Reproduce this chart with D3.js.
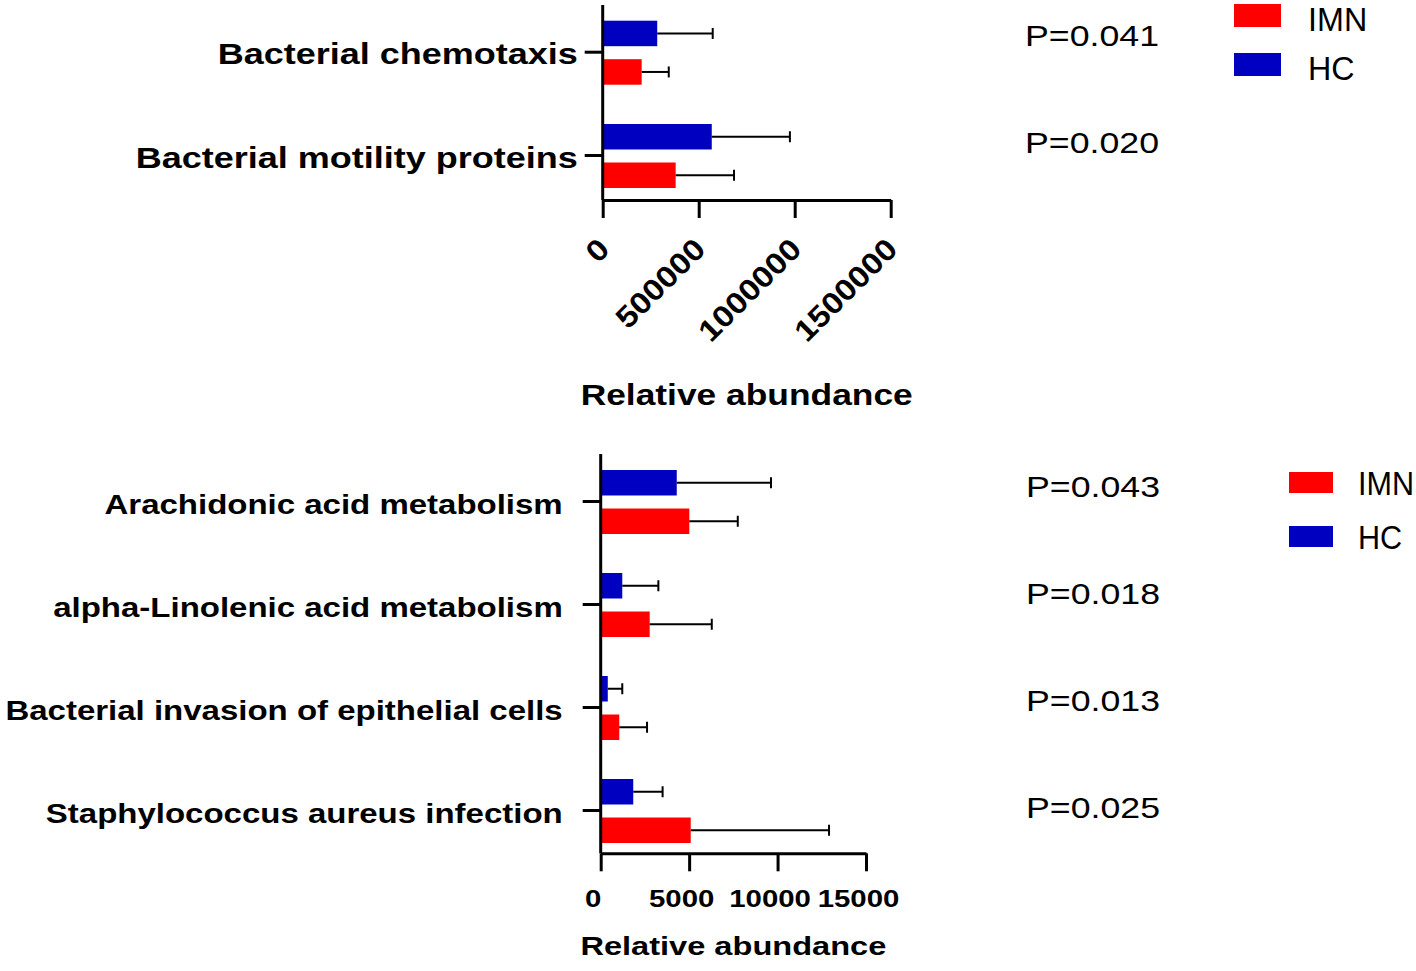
<!DOCTYPE html>
<html><head><meta charset="utf-8">
<script src="https://cdn.jsdelivr.net/npm/d3@7"></script>
<style>body{margin:0;background:#fff}svg{display:block}text{font-family:"Liberation Sans",Arial,sans-serif;fill:#000}</style>
</head><body><svg id="c" width="1416" height="971"></svg>
<script>
// ---------- data ----------
const groups = ["IMN", "HC"];

const topCategories = ["Bacterial chemotaxis", "Bacterial motility proteins"];
const topIMN   = [203000, 380000];
const topIMNsd = [141000, 304000];
const topHC    = [284000, 568000];
const topHCsd  = [289000, 407000];
const topPvalues = ["P=0.041", "P=0.020"];
const topTicks = [0, 500000, 1000000, 1500000];

const bottomCategories = ["Arachidonic acid metabolism", "alpha-Linolenic acid metabolism",
  "Bacterial invasion of epithelial cells", "Staphylococcus aureus infection"];
const bottomIMN   = [5010, 2770, 1050, 5090];
const bottomIMNsd = [2740, 3510, 1570, 7820];
const bottomHC    = [4300, 1220, 400, 1840];
const bottomHCsd  = [5330, 2040, 820, 1660];
const bottomPvalues = ["P=0.043", "P=0.018", "P=0.013", "P=0.025"];
const bottomTicks = [0, 5000, 10000, 15000];

const axisTitle = "Relative abundance";
const colors = {IMN: "#FF0000", HC: "#0000C0"};

// ---------- drawing ----------
const svg = d3.select("#c");

function stext(g, x, y, str, size, sx, anchor, weight) {
  return g.append("text")
    .attr("transform", `translate(${x},${y}) scale(${sx},1)`)
    .attr("text-anchor", anchor)
    .attr("font-size", size)
    .attr("font-weight", weight)
    .text(str);
}

function panel(cfg) {
  const g = svg.append("g");
  const x = d3.scaleLinear().domain([0, cfg.ticks[cfg.ticks.length - 1]]).range([cfg.x0, cfg.x1]);
  const y = d3.scalePoint().domain(cfg.categories).range([cfg.c0, cfg.c1]);
  const sub = d3.scaleBand().domain(["HC", "IMN"]).range([-31, 33]).paddingInner(0.338);

  const rows = [];
  cfg.categories.forEach((c, i) => {
    rows.push({cat: c, grp: "HC", v: cfg.hc[i], sd: cfg.hcsd[i]});
    rows.push({cat: c, grp: "IMN", v: cfg.imn[i], sd: cfg.imnsd[i]});
  });

  g.selectAll("rect.bar").data(rows).join("rect")
    .attr("class", "bar")
    .attr("x", x(0))
    .attr("y", d => y(d.cat) + sub(d.grp))
    .attr("width", d => x(d.v) - x(0))
    .attr("height", sub.bandwidth())
    .attr("fill", d => colors[d.grp]);

  const eb = g.selectAll("g.eb").data(rows).join("g").attr("class", "eb")
    .attr("stroke", "#000").attr("stroke-width", 2);
  eb.append("line")
    .attr("x1", d => x(d.v)).attr("x2", d => x(d.v + d.sd))
    .attr("y1", d => y(d.cat) + sub(d.grp) + sub.bandwidth() / 2)
    .attr("y2", d => y(d.cat) + sub(d.grp) + sub.bandwidth() / 2);
  eb.append("line")
    .attr("x1", d => x(d.v + d.sd)).attr("x2", d => x(d.v + d.sd))
    .attr("y1", d => y(d.cat) + sub(d.grp) + sub.bandwidth() / 2 - 5.5)
    .attr("y2", d => y(d.cat) + sub(d.grp) + sub.bandwidth() / 2 + 5.5);

  // y axis
  const ya = g.append("g").attr("transform", `translate(${cfg.x0},0)`)
    .call(d3.axisLeft(y).tickSize(18).tickSizeOuter(0));
  ya.select(".domain").remove();
  ya.selectAll(".tick line").attr("stroke", "#000").attr("stroke-width", 3);
  ya.selectAll(".tick text")
    .attr("x", -cfg.labelGap / cfg.catSx).attr("dy", null).attr("y", 12)
    .attr("transform", `scale(${cfg.catSx},1)`)
    .attr("font-size", cfg.catSize).attr("font-weight", "bold")
    .attr("font-family", null).attr("fill", "#000");
  g.append("line").attr("x1", cfg.x0).attr("x2", cfg.x0)
    .attr("y1", cfg.yTop).attr("y2", cfg.yAxis)
    .attr("stroke", "#000").attr("stroke-width", 3);

  // x axis
  const xa = g.append("g").attr("transform", `translate(0,${cfg.yAxis})`)
    .call(d3.axisBottom(x).tickValues(cfg.ticks).tickSize(18).tickSizeOuter(0).tickFormat(d3.format("d")));
  xa.select(".domain").attr("stroke", "#000").attr("stroke-width", 3);
  xa.selectAll(".tick line").attr("stroke", "#000").attr("stroke-width", 3);
  const tt = xa.selectAll(".tick text")
    .attr("x", null).attr("y", null).attr("dy", null)
    .attr("font-size", cfg.tickSize).attr("font-weight", "bold")
    .attr("font-family", null).attr("fill", "#000");
  if (cfg.rotate) {
    tt.attr("text-anchor", "end")
      .attr("transform", `translate(8,51) rotate(-45) scale(${cfg.tickSx},1)`);
  } else {
    tt.attr("text-anchor", "middle")
      .attr("transform", `translate(-8,${cfg.tickBase}) scale(${cfg.tickSx},1)`);
  }

  // axis title
  stext(g, (cfg.x0 + cfg.x1) / 2, cfg.titleBase, axisTitle, cfg.titleSize, cfg.titleSx, "middle", "bold");

  // p values
  const py = d3.scalePoint().domain(cfg.categories).range([cfg.p0, cfg.p1]);
  cfg.categories.forEach((c, i) => {
    stext(g, cfg.px, py(c), cfg.pvals[i], 30, 1.19, "start", "normal");
  });

  // legend
  groups.forEach((k, i) => {
    g.append("rect")
      .attr("x", cfg.lx).attr("y", cfg.ly + i * cfg.lstep)
      .attr("width", cfg.lw).attr("height", cfg.lh)
      .attr("fill", colors[k]);
    stext(g, cfg.lx + cfg.ltx, cfg.ly + i * cfg.lstep + cfg.lh + cfg.lty, k, cfg.lsize, cfg.lsx, "start", "normal");
  });
}

panel({
  categories: topCategories, imn: topIMN, imnsd: topIMNsd, hc: topHC, hcsd: topHCsd,
  pvals: topPvalues, ticks: topTicks,
  x0: 602.7, x1: 890.7, yTop: 5, yAxis: 200, c0: 51.7, c1: 155,
  catSize: 30, catSx: 1.2, labelGap: 25,
  tickSize: 30, tickSx: 1.12, rotate: true,
  titleBase: 405, titleSize: 29, titleSx: 1.22,
  px: 1025, p0: 46, p1: 153,
  lx: 1234, ly: 4, lstep: 49, lw: 47, lh: 23, ltx: 74, lty: 4, lsize: 34, lsx: 0.95
});

panel({
  categories: bottomCategories, imn: bottomIMN, imnsd: bottomIMNsd, hc: bottomHC, hcsd: bottomHCsd,
  pvals: bottomPvalues, ticks: bottomTicks,
  x0: 600.7, x1: 866, yTop: 454, yAxis: 853.3, c0: 501, c1: 810,
  catSize: 27.5, catSx: 1.2, labelGap: 38,
  tickSize: 24.5, tickSx: 1.2, rotate: false, tickBase: 53.5,
  titleBase: 955, titleSize: 26.5, titleSx: 1.23,
  px: 1026, p0: 497, p1: 818,
  lx: 1289, ly: 472, lstep: 54, lw: 44, lh: 21, ltx: 69, lty: 2, lsize: 34, lsx: 0.9
});
</script>
</body></html>
